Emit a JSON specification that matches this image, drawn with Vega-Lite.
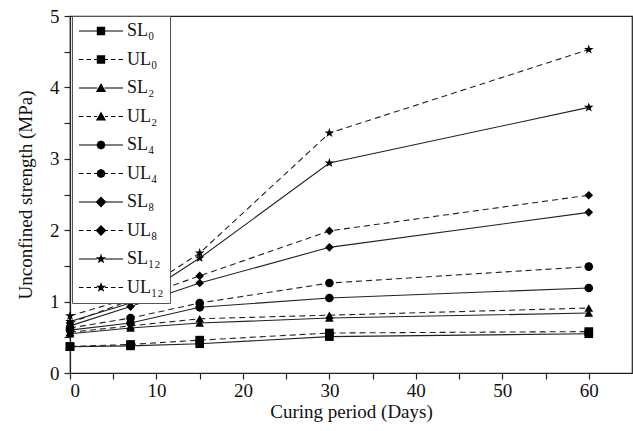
{
  "$schema": "https://vega.github.io/schema/vega-lite/v6.json",
  "width": 562,
  "height": 357,
  "autosize": {"type": "none"},
  "padding": {"left": 70, "top": 16, "right": 1, "bottom": 58},
  "background": "white",
  "config": {
    "view": {"stroke": "#222", "strokeWidth": 1.2},
    "font": "Liberation Serif",
    "axis": {
      "grid": false,
      "domainColor": "#222",
      "domainWidth": 1.2,
      "tickColor": "#222",
      "tickSize": 6,
      "tickWidth": 1.2,
      "labelFont": "Liberation Serif",
      "labelFontSize": 19,
      "labelColor": "#111",
      "titleFont": "Liberation Serif",
      "titleFontSize": 19,
      "titleFontWeight": "normal",
      "titleColor": "#111"
    }
  },
  "data": {
    "values": [
      {"series": "SL₀", "type": "S", "level": "0", "day": 0, "value": 0.37},
      {"series": "SL₀", "type": "S", "level": "0", "day": 7, "value": 0.38},
      {"series": "SL₀", "type": "S", "level": "0", "day": 15, "value": 0.41},
      {"series": "SL₀", "type": "S", "level": "0", "day": 30, "value": 0.51},
      {"series": "SL₀", "type": "S", "level": "0", "day": 60, "value": 0.55},
      {"series": "UL₀", "type": "U", "level": "0", "day": 0, "value": 0.37},
      {"series": "UL₀", "type": "U", "level": "0", "day": 7, "value": 0.40},
      {"series": "UL₀", "type": "U", "level": "0", "day": 15, "value": 0.46},
      {"series": "UL₀", "type": "U", "level": "0", "day": 30, "value": 0.56},
      {"series": "UL₀", "type": "U", "level": "0", "day": 60, "value": 0.58},
      {"series": "SL₂", "type": "S", "level": "2", "day": 0, "value": 0.55},
      {"series": "SL₂", "type": "S", "level": "2", "day": 7, "value": 0.63},
      {"series": "SL₂", "type": "S", "level": "2", "day": 15, "value": 0.70},
      {"series": "SL₂", "type": "S", "level": "2", "day": 30, "value": 0.77},
      {"series": "SL₂", "type": "S", "level": "2", "day": 60, "value": 0.84},
      {"series": "UL₂", "type": "U", "level": "2", "day": 0, "value": 0.57},
      {"series": "UL₂", "type": "U", "level": "2", "day": 7, "value": 0.66},
      {"series": "UL₂", "type": "U", "level": "2", "day": 15, "value": 0.76},
      {"series": "UL₂", "type": "U", "level": "2", "day": 30, "value": 0.81},
      {"series": "UL₂", "type": "U", "level": "2", "day": 60, "value": 0.91},
      {"series": "SL₄", "type": "S", "level": "4", "day": 0, "value": 0.60},
      {"series": "SL₄", "type": "S", "level": "4", "day": 7, "value": 0.70},
      {"series": "SL₄", "type": "S", "level": "4", "day": 15, "value": 0.92},
      {"series": "SL₄", "type": "S", "level": "4", "day": 30, "value": 1.05},
      {"series": "SL₄", "type": "S", "level": "4", "day": 60, "value": 1.19},
      {"series": "UL₄", "type": "U", "level": "4", "day": 0, "value": 0.63},
      {"series": "UL₄", "type": "U", "level": "4", "day": 7, "value": 0.77},
      {"series": "UL₄", "type": "U", "level": "4", "day": 15, "value": 0.98},
      {"series": "UL₄", "type": "U", "level": "4", "day": 30, "value": 1.26},
      {"series": "UL₄", "type": "U", "level": "4", "day": 60, "value": 1.49},
      {"series": "SL₈", "type": "S", "level": "8", "day": 0, "value": 0.66},
      {"series": "SL₈", "type": "S", "level": "8", "day": 7, "value": 0.93},
      {"series": "SL₈", "type": "S", "level": "8", "day": 15, "value": 1.26},
      {"series": "SL₈", "type": "S", "level": "8", "day": 30, "value": 1.76},
      {"series": "SL₈", "type": "S", "level": "8", "day": 60, "value": 2.25},
      {"series": "UL₈", "type": "U", "level": "8", "day": 0, "value": 0.70},
      {"series": "UL₈", "type": "U", "level": "8", "day": 7, "value": 1.02},
      {"series": "UL₈", "type": "U", "level": "8", "day": 15, "value": 1.36},
      {"series": "UL₈", "type": "U", "level": "8", "day": 30, "value": 1.99},
      {"series": "UL₈", "type": "U", "level": "8", "day": 60, "value": 2.49},
      {"series": "SL₁₂", "type": "S", "level": "12", "day": 0, "value": 0.72},
      {"series": "SL₁₂", "type": "S", "level": "12", "day": 7, "value": 0.98},
      {"series": "SL₁₂", "type": "S", "level": "12", "day": 15, "value": 1.61},
      {"series": "SL₁₂", "type": "S", "level": "12", "day": 30, "value": 2.94},
      {"series": "SL₁₂", "type": "S", "level": "12", "day": 60, "value": 3.72},
      {"series": "UL₁₂", "type": "U", "level": "12", "day": 0, "value": 0.80},
      {"series": "UL₁₂", "type": "U", "level": "12", "day": 7, "value": 1.05},
      {"series": "UL₁₂", "type": "U", "level": "12", "day": 15, "value": 1.68},
      {"series": "UL₁₂", "type": "U", "level": "12", "day": 30, "value": 3.36},
      {"series": "UL₁₂", "type": "U", "level": "12", "day": 60, "value": 4.53}
    ]
  },
  "encoding": {
    "x": {
      "field": "day",
      "type": "quantitative",
      "scale": {"domain": [0, 65], "nice": false, "zero": false},
      "axis": {
        "title": "Curing period (Days)",
        "values": [0, 5, 10, 15, 20, 25, 30, 35, 40, 45, 50, 55, 60],
        "labelExpr": "datum.value % 10 === 0 ? format(datum.value, 'd') : ''",
        "labelPadding": 2,
        "titlePadding": 2
      }
    },
    "y": {
      "field": "value",
      "type": "quantitative",
      "scale": {"domain": [0, 5], "nice": false},
      "axis": {
        "title": "Unconfined strength (MPa)",
        "values": [0, 0.5, 1, 1.5, 2, 2.5, 3, 3.5, 4, 4.5, 5],
        "labelExpr": "datum.value % 1 === 0 ? format(datum.value, 'd') : ''",
        "labelPadding": 5,
        "titlePadding": 14
      }
    }
  },
  "layer": [
    {
      "transform": [{"filter": "datum.type === 'S'"}],
      "mark": {"type": "line", "color": "#222", "strokeWidth": 1.1},
      "encoding": {"detail": {"field": "series", "type": "nominal"}}
    },
    {
      "transform": [{"filter": "datum.type === 'U'"}],
      "mark": {"type": "line", "color": "#222", "strokeWidth": 1.1, "strokeDash": [6, 4]},
      "encoding": {"detail": {"field": "series", "type": "nominal"}}
    },
    {
      "mark": {"type": "point", "filled": true, "color": "black", "opacity": 1, "size": 75},
      "encoding": {
        "shape": {
          "field": "level",
          "type": "nominal",
          "scale": {
            "domain": ["0", "2", "4", "8", "12"],
            "range": ["square", "triangle-up", "circle", "diamond", "M0,-1.15L0.27,-0.37L1.1,-0.36L0.44,0.14L0.68,0.93L0,0.46L-0.68,0.93L-0.44,0.14L-1.1,-0.36L-0.27,-0.37Z"]
          },
          "legend": null
        }
      }
    },
    {
      "mark": {"type": "point", "filled": true, "color": "black", "opacity": 0},
      "encoding": {
        "shape": {
          "field": "series",
          "type": "nominal",
          "scale": {
            "domain": ["SL₀", "UL₀", "SL₂", "UL₂", "SL₄", "UL₄", "SL₈", "UL₈", "SL₁₂", "UL₁₂"],
            "range": [
              "M-3.67,-0.09L-0.6,-0.09L-0.6,0.09L-3.67,0.09ZM0.6,-0.09L3.67,-0.09L3.67,0.09L0.6,0.09ZM-0.7,-0.7L0.7,-0.7L0.7,0.7L-0.7,0.7Z",
              "M-3.67,-0.09L-2.92,-0.09L-2.92,0.09L-3.67,0.09ZM-2.42,-0.09L-1.67,-0.09L-1.67,0.09L-2.42,0.09ZM-1.17,-0.09L-0.67,-0.09L-0.67,0.09L-1.17,0.09ZM0.67,-0.09L1.17,-0.09L1.17,0.09L0.67,0.09ZM1.67,-0.09L2.42,-0.09L2.42,0.09L1.67,0.09ZM2.92,-0.09L3.67,-0.09L3.67,0.09L2.92,0.09ZM-0.7,-0.7L0.7,-0.7L0.7,0.7L-0.7,0.7Z",
              "M-3.67,-0.09L-0.6,-0.09L-0.6,0.09L-3.67,0.09ZM0.6,-0.09L3.67,-0.09L3.67,0.09L0.6,0.09ZM0,-0.85L0.85,0.65L-0.85,0.65Z",
              "M-3.67,-0.09L-2.92,-0.09L-2.92,0.09L-3.67,0.09ZM-2.42,-0.09L-1.67,-0.09L-1.67,0.09L-2.42,0.09ZM-1.17,-0.09L-0.67,-0.09L-0.67,0.09L-1.17,0.09ZM0.67,-0.09L1.17,-0.09L1.17,0.09L0.67,0.09ZM1.67,-0.09L2.42,-0.09L2.42,0.09L1.67,0.09ZM2.92,-0.09L3.67,-0.09L3.67,0.09L2.92,0.09ZM0,-0.85L0.85,0.65L-0.85,0.65Z",
              "M-3.67,-0.09L-0.6,-0.09L-0.6,0.09L-3.67,0.09ZM0.6,-0.09L3.67,-0.09L3.67,0.09L0.6,0.09ZM-0.75,0L-0.53,-0.53L0,-0.75L0.53,-0.53L0.75,0L0.53,0.53L0,0.75L-0.53,0.53Z",
              "M-3.67,-0.09L-2.92,-0.09L-2.92,0.09L-3.67,0.09ZM-2.42,-0.09L-1.67,-0.09L-1.67,0.09L-2.42,0.09ZM-1.17,-0.09L-0.67,-0.09L-0.67,0.09L-1.17,0.09ZM0.67,-0.09L1.17,-0.09L1.17,0.09L0.67,0.09ZM1.67,-0.09L2.42,-0.09L2.42,0.09L1.67,0.09ZM2.92,-0.09L3.67,-0.09L3.67,0.09L2.92,0.09ZM-0.75,0L-0.53,-0.53L0,-0.75L0.53,-0.53L0.75,0L0.53,0.53L0,0.75L-0.53,0.53Z",
              "M-3.67,-0.09L-0.6,-0.09L-0.6,0.09L-3.67,0.09ZM0.6,-0.09L3.67,-0.09L3.67,0.09L0.6,0.09ZM0,-0.9L0.9,0L0,0.9L-0.9,0Z",
              "M-3.67,-0.09L-2.92,-0.09L-2.92,0.09L-3.67,0.09ZM-2.42,-0.09L-1.67,-0.09L-1.67,0.09L-2.42,0.09ZM-1.17,-0.09L-0.67,-0.09L-0.67,0.09L-1.17,0.09ZM0.67,-0.09L1.17,-0.09L1.17,0.09L0.67,0.09ZM1.67,-0.09L2.42,-0.09L2.42,0.09L1.67,0.09ZM2.92,-0.09L3.67,-0.09L3.67,0.09L2.92,0.09ZM0,-0.9L0.9,0L0,0.9L-0.9,0Z",
              "M-3.67,-0.09L-0.6,-0.09L-0.6,0.09L-3.67,0.09ZM0.6,-0.09L3.67,-0.09L3.67,0.09L0.6,0.09ZM0,-0.9L0.212,-0.291L0.856,-0.278L0.342,0.111L0.529,0.728L0,0.36L-0.529,0.728L-0.342,0.111L-0.856,-0.278L-0.212,-0.291Z",
              "M-3.67,-0.09L-2.92,-0.09L-2.92,0.09L-3.67,0.09ZM-2.42,-0.09L-1.67,-0.09L-1.67,0.09L-2.42,0.09ZM-1.17,-0.09L-0.67,-0.09L-0.67,0.09L-1.17,0.09ZM0.67,-0.09L1.17,-0.09L1.17,0.09L0.67,0.09ZM1.67,-0.09L2.42,-0.09L2.42,0.09L1.67,0.09ZM2.92,-0.09L3.67,-0.09L3.67,0.09L2.92,0.09ZM0,-0.9L0.212,-0.291L0.856,-0.278L0.342,0.111L0.529,0.728L0,0.36L-0.529,0.728L-0.342,0.111L-0.856,-0.278L-0.212,-0.291Z"
            ]
          },
          "legend": {
            "title": null,
            "orient": "none",
            "legendX": 2,
            "legendY": 0,
            "padding": 6,
            "fillColor": "white",
            "strokeColor": "#555",
            "symbolSize": 144,
            "symbolOffset": 14,
            "symbolFillColor": "black",
            "symbolOpacity": 1,
            "labelOffset": 17,
            "labelFont": "Liberation Serif",
            "labelFontSize": 18,
            "labelColor": "#111",
            "rowPadding": 10.5,
            "labelLimit": 200
          }
        }
      }
    }
  ],
  "resolve": {"scale": {"shape": "independent"}, "legend": {"shape": "independent"}}
}
